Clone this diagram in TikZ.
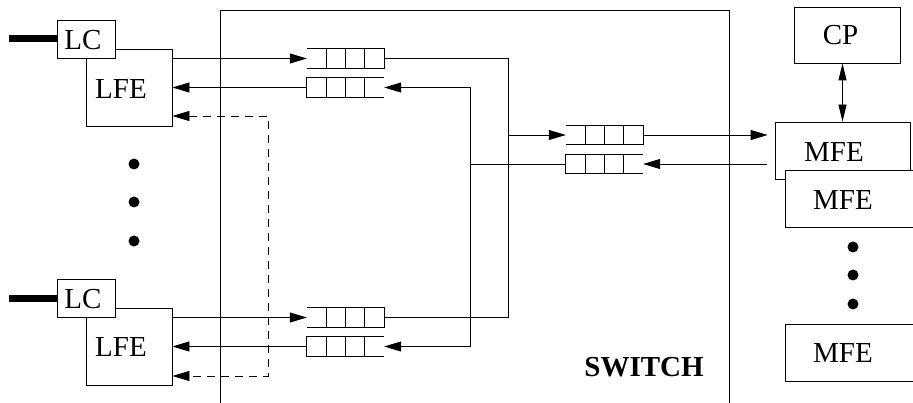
\documentclass[tikz,border=0pt]{standalone}
\usepackage{fontspec}
\setmainfont{Liberation Serif}
\usetikzlibrary{arrows.meta,calc}
\newcommand\myqueueL[1]{%
  \draw[ln] (#1.north west) -- (#1.north east) -- (#1.south east) -- (#1.south west);
  \foreach \f in {0.25,0.5,0.75}
    \draw[ln] ($(#1.north west)!\f!(#1.north east)$) -- ($(#1.south west)!\f!(#1.south east)$);}
\newcommand\myqueueR[1]{%
  \draw[ln] (#1.north east) -- (#1.north west) -- (#1.south west) -- (#1.south east);
  \foreach \f in {0.25,0.5,0.75}
    \draw[ln] ($(#1.north west)!\f!(#1.north east)$) -- ($(#1.south west)!\f!(#1.south east)$);}
\tikzset{
  ln/.style={line width=0.8pt},
  box/.style={draw, fill=white, inner sep=0pt, line width=0.8pt},
  lbl/.style={inner sep=0pt, font=\fontsize{29}{33}\selectfont},
  queue/.style={inner sep=0pt, minimum width=77pt, minimum height=19pt},
  arr/.style={ln, -{Triangle[length=17pt,width=10pt]}},
  darr/.style={ln, dash pattern=on 8pt off 6pt, {Triangle[length=17pt,width=10pt]}-{Triangle[length=17pt,width=10pt]}},
  dbl/.style={ln, {Triangle[length=17pt,width=8pt]}-{Triangle[length=17pt,width=8pt]}},
  thickln/.style={line width=7pt},
  dot/.style={circle, fill=black, inner sep=0pt, minimum size=11pt}
}
\begin{document}
\begin{tikzpicture}[x=1pt,y=-1pt]
\useasboundingbox (0,0) rectangle (913,403);
\clip (0,0) rectangle (913,403);
\fill[white] (0,0) rectangle (913,403);
% switch
\draw[ln] (220,410) -- (220,10) -- (729,10) -- (729,410);
\node[lbl, font=\fontsize{29}{33}\selectfont\bfseries] (swl) at (644,367) {SWITCH};
% line cards
\node[box, minimum width=86pt, minimum height=77pt] (lfe1) at (129,87.5) {};
\node[lbl] (lfe1t) at (121,89) {LFE};
\node[box, minimum width=58pt, minimum height=38pt] (lc1) at (86,39) {};
\node[lbl] (lc1t) at (83,40) {LC};
\coordinate (t1) at (9,39);
\draw[thickln] (t1) -- (lc1.west);
\node[box, minimum width=86pt, minimum height=77pt] (lfe2) at (129,346.5) {};
\node[lbl] (lfe2t) at (121,347) {LFE};
\node[box, minimum width=58pt, minimum height=38pt] (lc2) at (86,298.5) {};
\node[lbl] (lc2t) at (83,299) {LC};
\coordinate (t2) at (9,298.5);
\draw[thickln] (t2) -- (lc2.west);
% dots left
\node[dot] (ld1) at (134,164) {};
\node[dot] (ld2) at (134,202) {};
\node[dot] (ld3) at (134,241) {};
% queues
\node[queue] (qo1) at (345.5,58.5) {};
\node[queue] (qi1) at (345.5,87.5) {};
\node[queue] (qo2) at (345.5,317.5) {};
\node[queue] (qi2) at (345.5,346.5) {};
\node[queue] (qo3) at (604.5,135) {};
\node[queue] (qi3) at (604.5,164) {};
\myqueueL{qo1}
\myqueueR{qi1}
\myqueueL{qo2}
\myqueueR{qi2}
\myqueueL{qo3}
\myqueueR{qi3}
% line card connectors
\draw[arr] (lfe1.east |- qo1.west) -- (qo1.west);
\draw[arr] (qi1.west) -- (lfe1.east |- qi1.west);
\draw[arr] (lfe2.east |- qo2.west) -- (qo2.west);
\draw[arr] (qi2.west) -- (lfe2.east |- qi2.west);
\coordinate (d1) at (268,116);
\coordinate (d2) at (268,376);
\draw[darr] (lfe1.east |- d1) -- (d1) -- (d2) -- (lfe2.east |- d2);
% switch internal
\coordinate (jo) at (508,135);
\coordinate (ji) at (470,164);
\draw[ln] (qo1.east) -- (qo1.east -| jo) -- (qo2.east -| jo) -- (qo2.east);
\draw[arr] (jo) -- (qo3.west);
\draw[ln] (qi3.west) -- (ji);
\draw[ln] (qi1.east -| ji) -- (qi2.east -| ji);
\draw[arr] (qi1.east -| ji) -- (qi1.east);
\draw[arr] (qi2.east -| ji) -- (qi2.east);
% MFEs
\node[box, minimum width=135pt, minimum height=57pt] (mfe1) at (842.5,150.5) {};
\node[lbl] (mfe1t) at (834,152) {MFE};
\node[box, minimum width=150pt, minimum height=57pt] (mfe2) at (860,198.5) {};
\node[lbl] (mfe2t) at (843,200) {MFE};
\node[box, minimum width=150pt, minimum height=57pt] (mfe3) at (860,352.5) {};
\node[lbl] (mfe3t) at (843,353) {MFE};
\node[box, minimum width=106pt, minimum height=56pt] (cp) at (847,35) {};
\node[lbl] (cpt) at (840.5,35) {CP};
\node[dot] (rd1) at (853,247) {};
\node[dot] (rd2) at (853,275) {};
\node[dot] (rd3) at (853,304) {};
\draw[arr, shorten >=7pt] (qo3.east) -- (mfe1.west |- qo3.east);
\draw[arr, shorten <=8pt] (mfe1.west |- qi3.east) -- (qi3.east);
\draw[dbl] (mfe1.north) -- (mfe1.north |- cp.south);
\end{tikzpicture}
\end{document}
